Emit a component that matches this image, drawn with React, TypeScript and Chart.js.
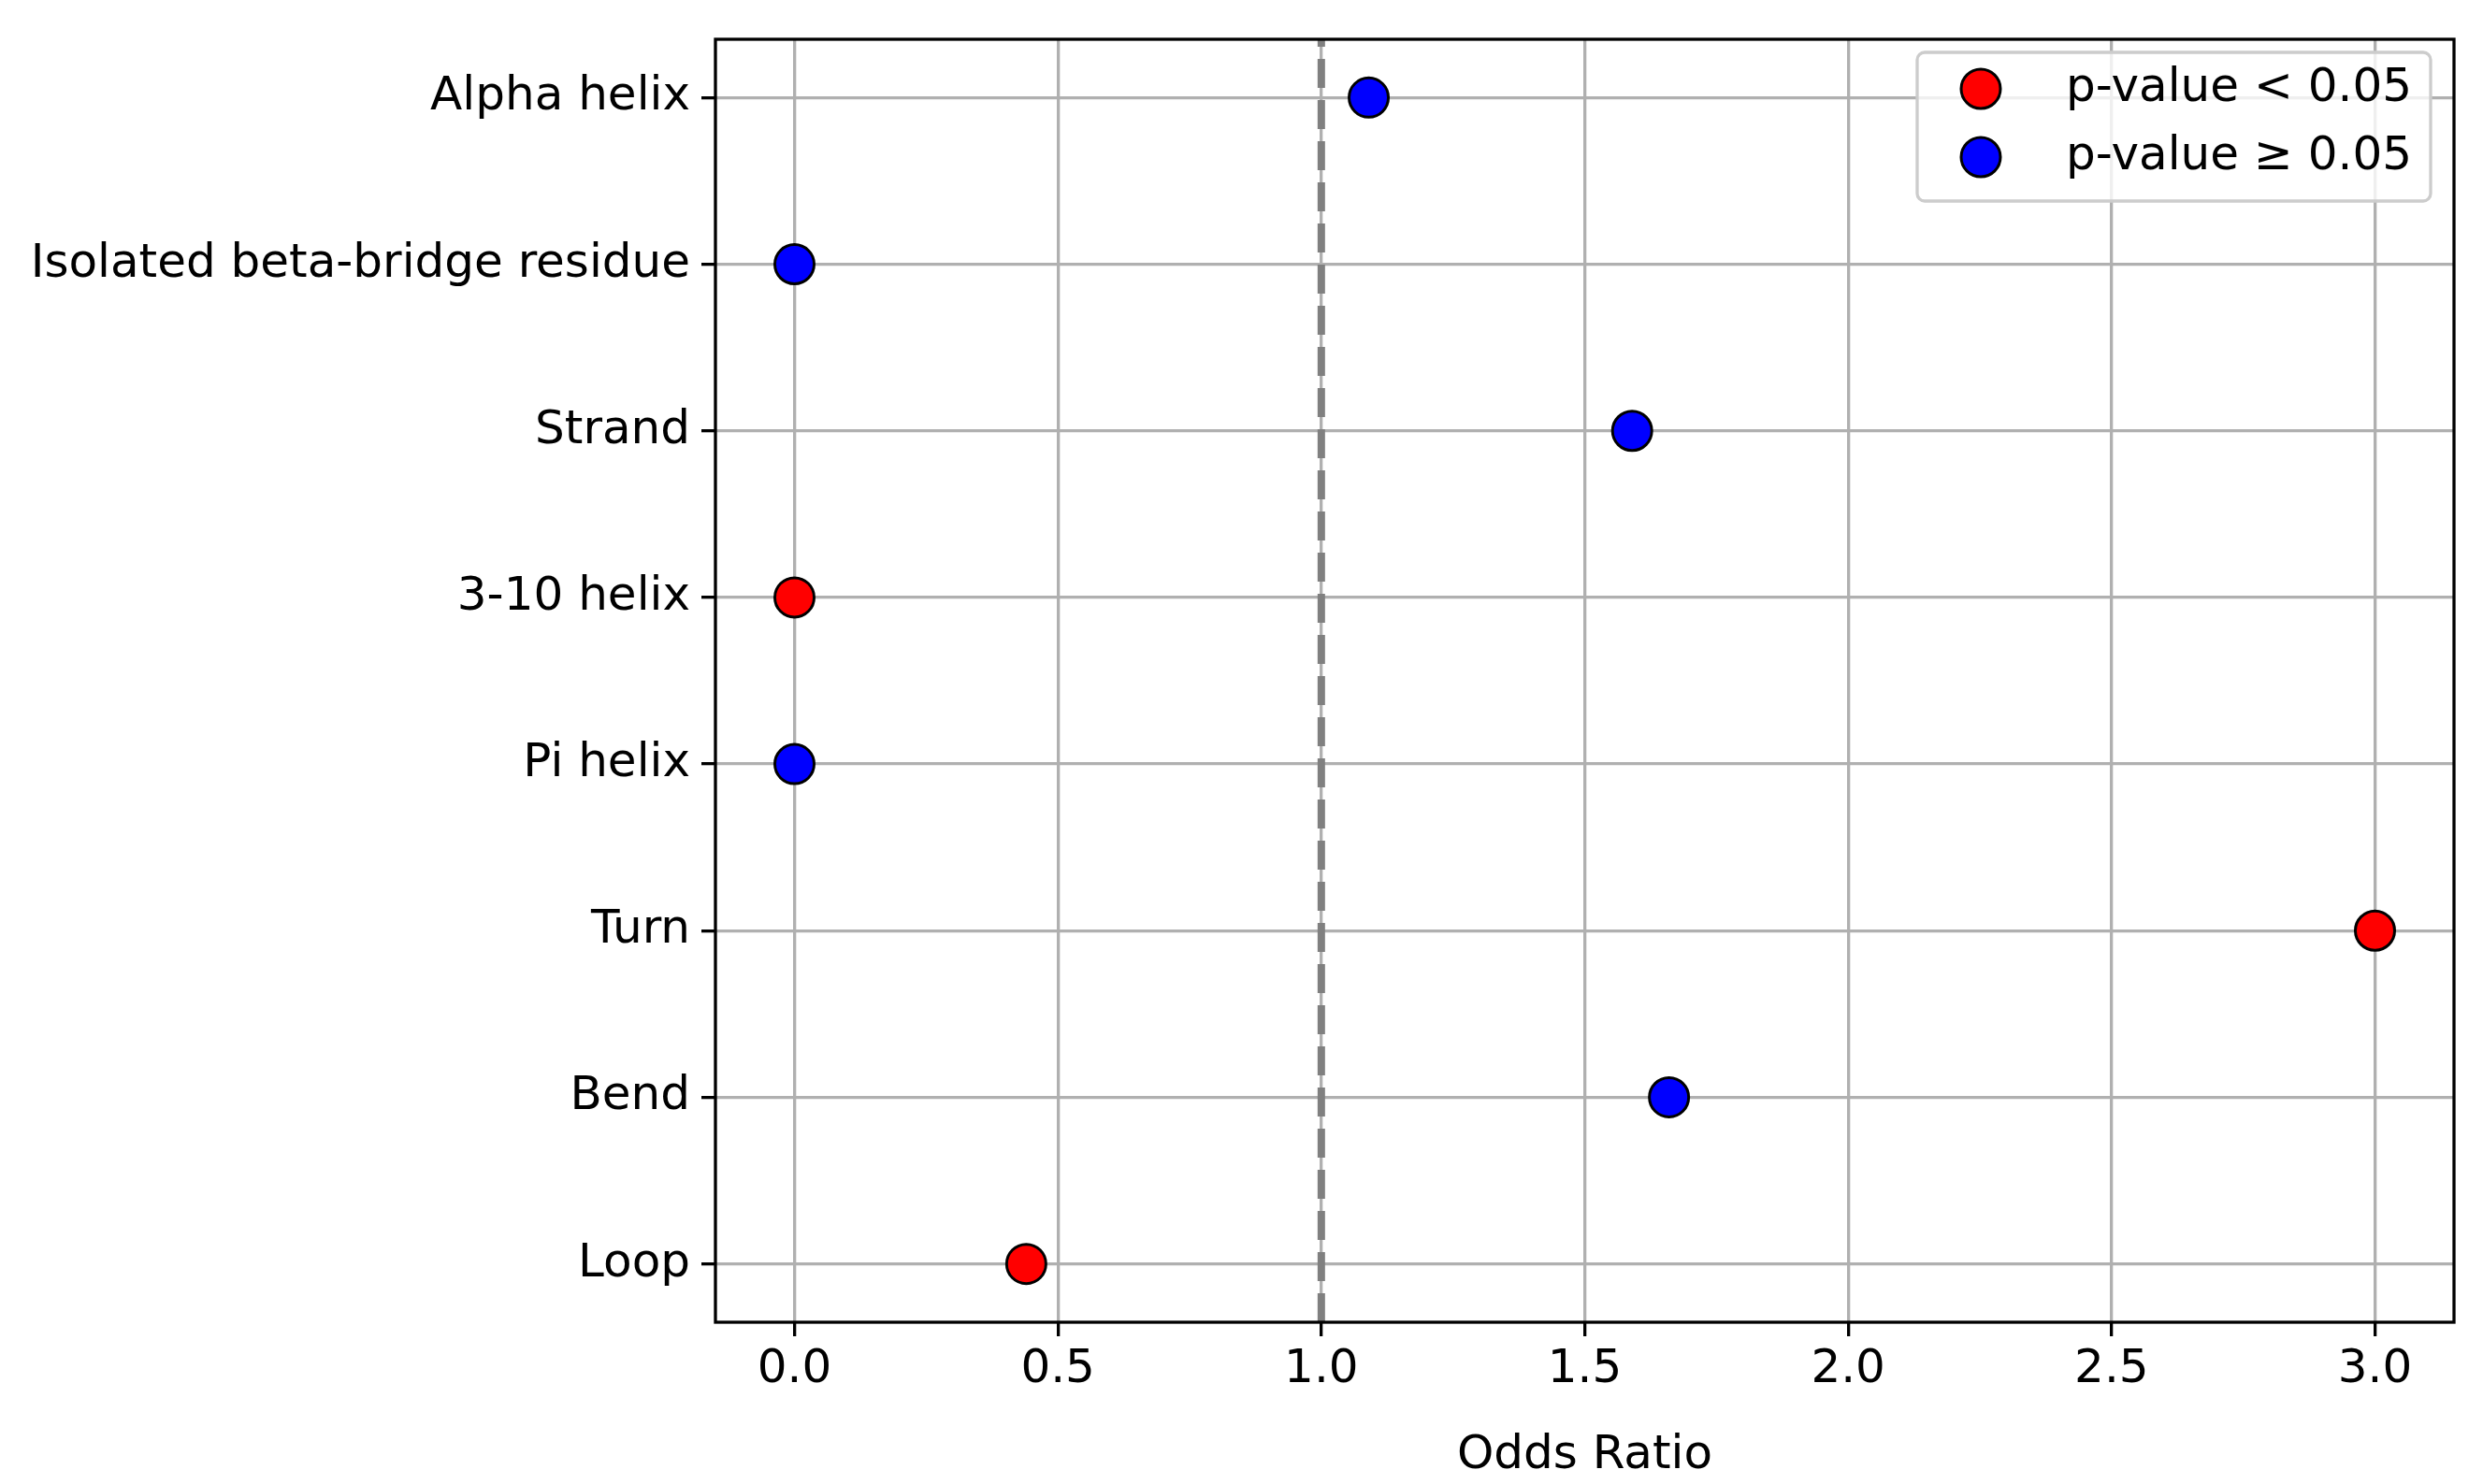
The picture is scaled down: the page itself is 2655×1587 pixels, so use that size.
import React, { useEffect, useRef } from "react";
import { Chart, registerables } from "chart.js";
Chart.register(...registerables);

const categories = ["Alpha helix", "Isolated beta-bridge residue", "Strand", "3-10 helix", "Pi helix", "Turn", "Bend", "Loop"];
const oddsRatios = [1.09, 0, 1.59, 0, 0, 3.0, 1.66, 0.44];
const significant = [false, false, false, true, false, true, false, true];
const xTicks = [0, 0.5, 1, 1.5, 2, 2.5, 3];
const legendLabels = ["p-value < 0.05", "p-value \u2265 0.05"];

const FONT = "DejaVu Sans";

export default function App() {
  const ref = useRef<HTMLCanvasElement>(null);
  useEffect(() => {
    document.body.style.margin = "0";
    const sig = categories.map((_, i) => i).filter(i => significant[i]).map(i => ({ x: oddsRatios[i], y: i }));
    const non = categories.map((_, i) => i).filter(i => !significant[i]).map(i => ({ x: oddsRatios[i], y: i }));
    const extras = {
      id: "extras",
      beforeDatasetsDraw(chart: any) {
        const { ctx, chartArea: a, scales } = chart;
        const x = scales.x.getPixelForValue(1);
        ctx.save();
        ctx.strokeStyle = "#808080";
        ctx.lineWidth = 8;
        ctx.setLineDash([31, 13]);
        ctx.beginPath();
        ctx.moveTo(x, a.bottom);
        ctx.lineTo(x, a.top);
        ctx.stroke();
        ctx.restore();
      },
      afterDraw(chart: any) {
        const { ctx, chartArea: a } = chart;
        ctx.save();
        ctx.strokeStyle = "#000";
        ctx.lineWidth = 3.3;
        ctx.strokeRect(a.left, a.top, a.right - a.left, a.bottom - a.top);
        // legend
        const bx = 2050, by = 56, bw = 549, bh = 159, r = 8;
        ctx.globalAlpha = 0.8;
        ctx.fillStyle = "#fff";
        ctx.beginPath();
        ctx.roundRect(bx, by, bw, bh, r);
        ctx.fill();
        ctx.globalAlpha = 1;
        ctx.strokeStyle = "#cccccc";
        ctx.lineWidth = 3.3;
        ctx.stroke();
        const cols = ["#ff0000", "#0000ff"];
        const ys = [95, 168];
        ctx.font = `50px "${FONT}"`;
        ctx.textBaseline = "middle";
        ctx.textAlign = "left";
        for (let i = 0; i < 2; i++) {
          ctx.beginPath();
          ctx.arc(2118, ys[i], 21, 0, Math.PI * 2);
          ctx.fillStyle = cols[i];
          ctx.fill();
          ctx.strokeStyle = "#000";
          ctx.lineWidth = 3;
          ctx.stroke();
          ctx.fillStyle = "#000";
          ctx.fillText(legendLabels[i], 2209, ys[i]);
        }
        ctx.restore();
      },
    };
    const chart = new Chart(ref.current!, {
      type: "scatter",
      data: {
        datasets: [
          { data: sig, backgroundColor: "#ff0000", borderColor: "#000", borderWidth: 3, pointRadius: 21 },
          { data: non, backgroundColor: "#0000ff", borderColor: "#000", borderWidth: 3, pointRadius: 21 },
        ],
      },
      options: {
        animation: false,
        responsive: false,
        devicePixelRatio: 1,
        layout: { padding: { top: 29, right: 31, left: 0, bottom: 0 } },
        plugins: { legend: { display: false }, tooltip: { enabled: false } },
        scales: {
          x: {
            type: "linear",
            min: -0.15,
            max: 3.15,
            afterBuildTicks: (s: any) => { s.ticks = xTicks.map(v => ({ value: v })); },
            afterFit: (s: any) => { s.height = 173; },
            ticks: { color: "#000", font: { family: FONT, size: 50 }, padding: 6, callback: (v: any) => Number(v).toFixed(1) },
            grid: { color: "#b0b0b0", lineWidth: 3.3, tickLength: 15, tickColor: "#000", tickWidth: 3.3 },
            border: { display: false },
            title: { display: true, text: "Odds Ratio", color: "#000", font: { family: FONT, size: 50 }, padding: { top: 0, bottom: 0 } },
          },
          y: {
            type: "linear",
            reverse: true,
            min: -0.35,
            max: 7.35,
            afterBuildTicks: (s: any) => { s.ticks = categories.map((_, i) => ({ value: i })); },
            afterFit: (s: any) => { s.width = 765; },
            ticks: { color: "#000", font: { family: FONT, size: 50 }, padding: 12, callback: (v: any) => categories[v as number] ?? "" },
            grid: { color: "#b0b0b0", lineWidth: 3.3, tickLength: 15, tickColor: "#000", tickWidth: 3.3 },
            border: { display: false },
          },
        },
      },
      plugins: [extras],
    });
    return () => chart.destroy();
  }, []);
  return <canvas ref={ref} width={2655} height={1587} style={{ display: "block", width: 2655, height: 1587 }} />;
}
